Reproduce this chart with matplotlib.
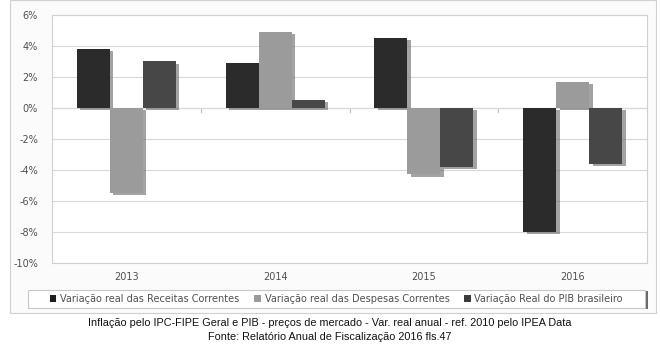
import matplotlib
matplotlib.use("Agg")
import matplotlib.pyplot as plt
import matplotlib.patheffects as pe
from matplotlib.patches import Rectangle, Patch
from matplotlib.ticker import FuncFormatter
import numpy as np

years = ["2013", "2014", "2015", "2016"]
receitas = [3.8, 2.9, 4.5, -8.0]
despesas = [-5.5, 4.9, -4.3, 1.7]
pib = [3.0, 0.5, -3.8, -3.6]
series_names = ["Variação real das Receitas Correntes",
                "Variação real das Despesas Correntes",
                "Variação Real do PIB brasileiro"]
colors = ["#2b2b2b", "#9b9b9b", "#474747"]
caption1 = "Inflação pelo IPC-FIPE Geral e PIB - preços de mercado - Var. real anual - ref. 2010 pelo IPEA Data"
caption2 = "Fonte: Relatório Anual de Fiscalização 2016 fls.47"

W, H = 660, 345
fig = plt.figure(figsize=(6.6, 3.45), dpi=100)
fig.patch.set_facecolor("white")

# outer chart panel
panel = Rectangle((10 / W, 1 - 313 / H), 646 / W, 313 / H, transform=fig.transFigure,
                  facecolor="#fbfbfb", edgecolor="#d0d0d0", linewidth=0.8, zorder=0)
fig.add_artist(panel)

ax = fig.add_axes([52 / W, 1 - 262.7 / H, 595 / W, (262.7 - 15) / H])
ax.set_facecolor("white")

x = np.arange(len(years))
w = 1 / 4.5
shadow = [pe.SimplePatchShadow(offset=(2.5, -1.5), shadow_rgbFace="#666666", alpha=0.6), pe.Normal()]
for i, (vals, c) in enumerate(zip([receitas, despesas, pib], colors)):
    bars = ax.bar(x + (i - 1) * w, vals, width=w, color=c, zorder=3)
    for b in bars:
        b.set_path_effects(shadow)

ax.set_xlim(-0.5, 3.5)
ax.set_ylim(-10, 6)
ax.set_yticks(np.arange(-10, 7, 2))
ax.yaxis.set_major_formatter(FuncFormatter(lambda v, p: f"{int(round(v))}%"))
ax.grid(axis="y", color="#d9d9d9", linewidth=0.8, zorder=0)
ax.axhline(0, color="#c8c8c8", linewidth=0.8, zorder=1)
for b in [0.5, 1.5, 2.5]:
    ax.plot([b, b], [0, -0.25], color="#c0c0c0", linewidth=0.8, zorder=1)
ax.set_xticks(x)
ax.set_xticklabels(years)
ax.tick_params(axis="both", length=0, colors="#505050", labelsize=7)
ax.tick_params(axis="x", pad=7)
ax.tick_params(axis="y", pad=10)
for s in ax.spines.values():
    s.set_color("#d0d0d0")
    s.set_linewidth(0.8)

# legend frame (drawn separately with shadow)
lframe = Rectangle((28 / W, 1 - 308 / H), 617 / W, 18 / H, transform=fig.transFigure,
                   facecolor="white", edgecolor="#c8c8c8", linewidth=0.8, zorder=1,
                   path_effects=[pe.SimplePatchShadow(offset=(2.5, -1), shadow_rgbFace="#444444", alpha=0.8),
                                 pe.Normal()])
fig.add_artist(lframe)

handles = [Patch(facecolor=c, edgecolor="none") for c in ["#1e1e1e", "#9b9b9b", "#3a3a3a"]]
leg = fig.legend(handles, series_names, loc="center left",
                 bbox_to_anchor=(50 / W, 1 - 299 / H, 573 / W, 0),
                 mode="expand", ncol=3,
                 fontsize=7, frameon=False, handlelength=0.65, handleheight=0.65,
                 handletextpad=0.4, borderpad=0, borderaxespad=0,
                 labelcolor="#505050")
leg.set_zorder(2)

fig.text(0.5, 1 - 323 / H, caption1, ha="center", va="center",
         fontsize=7.8, family="Liberation Sans", color="#111111")
fig.text(0.5, 1 - 337 / H, caption2, ha="center", va="center",
         fontsize=7.8, family="Liberation Sans", color="#111111")

fig.savefig("out.png", dpi=100)
